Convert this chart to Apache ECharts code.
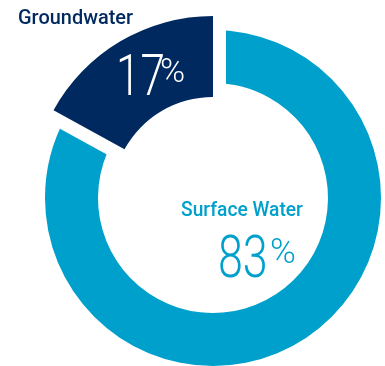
<!DOCTYPE html>
<html>
<head>
<meta charset="utf-8">
<script src="https://cdn.jsdelivr.net/npm/echarts@6/dist/echarts.min.js"></script>
<style>
html,body{margin:0;padding:0;background:#fff;}
#c{width:385px;height:366px;}
</style>
</head>
<body>
<div id="c"></div>
<script>
const categories = ['Surface Water', 'Groundwater'];
const values = [83, 17];
const colors = ['#00a0cc', '#002a5f'];

const chart = echarts.init(document.getElementById('c'), null, {renderer: 'canvas'});
const center = [213, 198];
const common = {
  type: 'pie', center: center, startAngle: 90, clockwise: true,
  silent: true, label: {show: false}, labelLine: {show: false},
  emphasis: {disabled: true}, animation: false, avoidLabelOverlap: false
};
function dataFor(fn) {
  return categories.map((name, i) => Object.assign({name: name, value: values[i]}, fn(i)));
}
const option = {
  backgroundColor: '#ffffff',
  series: [
    Object.assign({}, common, {
      radius: [115, 168], z: 1,
      data: dataFor(i => ({itemStyle: {color: i === 0 ? colors[0] : 'transparent'}}))
    }),
    Object.assign({}, common, {
      radius: [101, 182], z: 2,
      data: dataFor(i => ({itemStyle: i === 1
        ? {color: '#ffffff', borderColor: '#ffffff', borderWidth: 26}
        : {color: 'transparent', borderWidth: 0}}))
    }),
    Object.assign({}, common, {
      radius: [101, 182], z: 3,
      data: dataFor(i => ({itemStyle: {color: i === 1 ? colors[1] : 'transparent', borderWidth: 0}}))
    })
  ],
  graphic: [
    {type: 'text', x: 18, y: 19, scaleX: 0.95, z: 10,
     style: {text: categories[1], font: '500 21px Roboto', fill: colors[1], align: 'left', verticalAlign: 'middle'}},
    {type: 'text', x: 116, y: 80, scaleX: 0.76, z: 10,
     style: {text: String(values[1]), font: '300 58px Roboto', fill: '#ffffff', align: 'left', verticalAlign: 'middle'}},
    {type: 'text', x: 160, y: 73, scaleX: 1.0, z: 10,
     style: {text: '%', font: '300 34px Roboto', fill: '#ffffff', align: 'left', verticalAlign: 'middle'}},
    {type: 'text', x: 181, y: 211, scaleX: 0.96, z: 10,
     style: {text: categories[0], font: '500 20px Roboto', fill: colors[0], align: 'left', verticalAlign: 'middle'}},
    {type: 'text', x: 218, y: 262, scaleX: 0.76, z: 10,
     style: {text: String(values[0]), font: '300 59px Roboto', fill: colors[0], align: 'left', verticalAlign: 'middle'}},
    {type: 'text', x: 270, y: 254, scaleX: 1.0, z: 10,
     style: {text: '%', font: '300 35px Roboto', fill: colors[0], align: 'left', verticalAlign: 'middle'}}
  ]
};
chart.setOption(option);
</script>
</body>
</html>
